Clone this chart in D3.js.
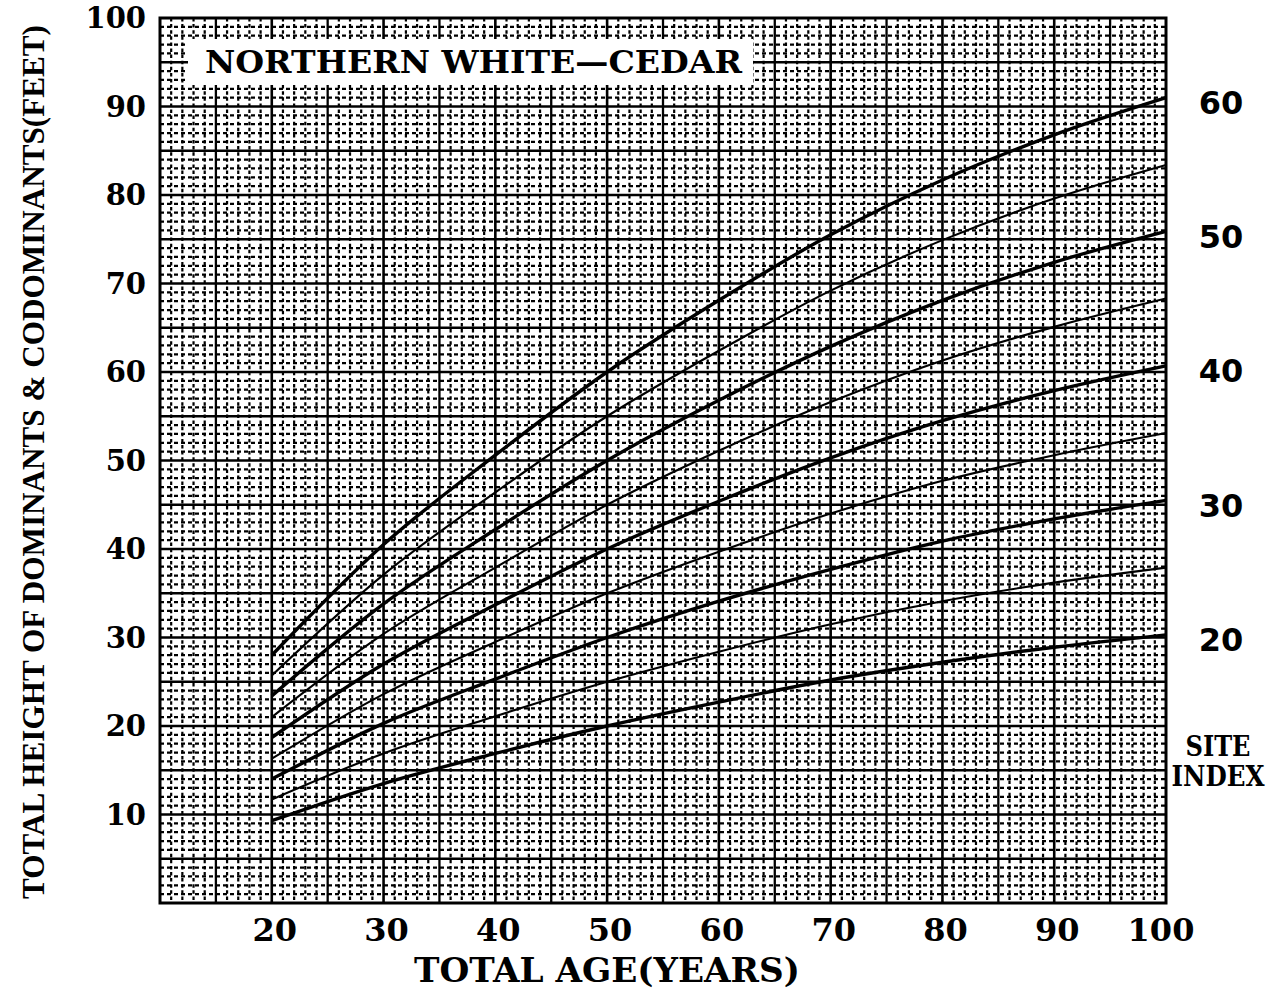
<!DOCTYPE html>
<html><head><meta charset="utf-8">
<script src="https://cdn.jsdelivr.net/npm/d3@7/dist/d3.min.js"></script>
<style>body{margin:0;background:#fff}svg{display:block}</style>
</head><body>
<svg id="chart" width="1275" height="994"></svg>
<script>
// ---- data ----
const ages = [20, 30, 40, 50, 60, 70, 80, 90, 100];
const siteIndexes = [60, 55, 50, 45, 40, 35, 30, 25, 20];
const si60 = [28.0, 40.5, 50.6, 60.0, 68.1, 75.5, 81.7, 86.8, 91.0];
const si55 = [25.7, 37.1, 46.4, 55.0, 62.4, 69.2, 74.9, 79.6, 83.4];
const si50 = [23.4, 33.8, 42.2, 50.0, 56.8, 62.9, 68.1, 72.4, 75.9];
const si45 = [21.0, 30.4, 37.9, 45.0, 51.1, 56.6, 61.3, 65.1, 68.3];
const si40 = [18.7, 27.0, 33.7, 40.0, 45.4, 50.3, 54.5, 57.9, 60.7];
const si35 = [16.3, 23.6, 29.5, 35.0, 39.7, 44.0, 47.7, 50.6, 53.1];
const si30 = [14.0, 20.3, 25.3, 30.0, 34.1, 37.7, 40.9, 43.4, 45.5];
const si25 = [11.7, 16.9, 21.1, 25.0, 28.4, 31.5, 34.1, 36.2, 37.9];
const si20 = [9.3, 13.5, 16.9, 20.0, 22.7, 25.2, 27.2, 28.9, 30.3];
const heightSeries = [si60, si55, si50, si45, si40, si35, si30, si25, si20];
const labeledIndexes = [60, 50, 40, 30, 20];
const xTickLabels = [20, 30, 40, 50, 60, 70, 80, 90, 100];
const yTickLabels = [10, 20, 30, 40, 50, 60, 70, 80, 90, 100];
const titleText = "NORTHERN WHITE\u2014CEDAR";
const xTitle = "TOTAL AGE(YEARS)";
const yTitle = "TOTAL HEIGHT OF DOMINANTS & CODOMINANTS(FEET)";
const siteLabel = ["SITE", "INDEX"];

// ---- drawing ----
const svg = d3.select("#chart");
const x = d3.scaleLinear().domain([10, 100]).range([160, 1166]);
const y = d3.scaleLinear().domain([0, 100]).range([903, 18]);
const serif = "'DejaVu Serif', serif";
const narrowSerif = "'Liberation Serif', serif";
const sans = "'DejaVu Sans', sans-serif";

const grid = svg.append("g");
// minor dotted texture (1-unit spacing)
grid.selectAll("line.mx").data(d3.range(10, 100, 1).filter(v => v % 5 !== 0)).join("line")
  .attr("x1", d => x(d)).attr("x2", d => x(d)).attr("y1", y(100)).attr("y2", y(0))
  .attr("stroke", "#000").attr("stroke-width", 2.2).attr("stroke-dasharray", "3.5 2.6");
grid.selectAll("line.my").data(d3.range(1, 100, 1).filter(v => v % 5 !== 0)).join("line")
  .attr("x1", x(10)).attr("x2", x(100)).attr("y1", d => y(d)).attr("y2", d => y(d))
  .attr("stroke", "#000").attr("stroke-width", 2.2).attr("stroke-dasharray", "4 3");
// major lines every 5 units
grid.selectAll("line.Mx").data(d3.range(15, 100, 5)).join("line")
  .attr("x1", d => x(d)).attr("x2", d => x(d)).attr("y1", y(100)).attr("y2", y(0))
  .attr("stroke", "#000").attr("stroke-width", d => d % 10 === 0 ? 2.6 : 2.3);
grid.selectAll("line.My").data(d3.range(5, 100, 5)).join("line")
  .attr("x1", x(10)).attr("x2", x(100)).attr("y1", d => y(d)).attr("y2", d => y(d))
  .attr("stroke", "#000").attr("stroke-width", d => d % 10 === 0 ? 2.6 : 2.3);
// frame
svg.append("rect").attr("x", x(10)).attr("y", y(100)).attr("width", x(100) - x(10)).attr("height", y(0) - y(100))
  .attr("fill", "none").attr("stroke", "#000").attr("stroke-width", 3);

// title box
svg.append("rect").attr("x", 188).attr("y", 39).attr("width", 565).attr("height", 46).attr("fill", "#fff");
svg.append("text").attr("x", 205).attr("y", 73).text(titleText)
  .attr("font-family", serif).attr("font-weight", "bold").attr("font-size", 31)
  .attr("textLength", 537).attr("lengthAdjust", "spacingAndGlyphs");

// curves
const line = d3.line().x((d, i) => x(ages[i])).y(d => y(d)).curve(d3.curveMonotoneX);
svg.append("g").selectAll("path").data(heightSeries).join("path")
  .attr("d", d => line(d)).attr("fill", "none").attr("stroke", "#000")
  .attr("stroke-width", (d, i) => siteIndexes[i] % 10 === 0 ? 3.4 : 2.1)
  .attr("stroke-linejoin", "round");

// left tick labels
svg.append("g").selectAll("text").data(yTickLabels).join("text")
  .attr("x", 146).attr("y", d => y(d)).attr("dy", "0.36em").attr("text-anchor", "end")
  .attr("font-family", serif).attr("font-weight", "bold").attr("font-size", 29).text(d => d);
// bottom tick labels
svg.append("g").selectAll("text").data(xTickLabels).join("text")
  .attr("x", d => x(d) + (d === 100 ? -5 : 3)).attr("y", 941).attr("text-anchor", "middle")
  .attr("font-family", serif).attr("font-weight", "bold").attr("font-size", 32).text(d => d);
// right site index labels
svg.append("g").selectAll("text").data(labeledIndexes).join("text")
  .attr("x", 1221).attr("y", d => y(heightSeries[siteIndexes.indexOf(d)][ages.length - 1]) + 5)
  .attr("dy", "0.36em").attr("text-anchor", "middle")
  .attr("font-family", sans).attr("font-weight", "bold").attr("font-size", 32).text(d => d);
svg.append("text").attr("x", 1218).attr("y", 756).attr("text-anchor", "middle")
  .attr("font-family", serif).attr("font-weight", "bold").attr("font-size", 27)
  .attr("textLength", 65).attr("lengthAdjust", "spacingAndGlyphs").text(siteLabel[0]);
svg.append("text").attr("x", 1218).attr("y", 786).attr("text-anchor", "middle")
  .attr("font-family", serif).attr("font-weight", "bold").attr("font-size", 27)
  .attr("textLength", 93).attr("lengthAdjust", "spacingAndGlyphs").text(siteLabel[1]);

// axis titles
svg.append("text").attr("x", 607).attr("y", 982).attr("text-anchor", "middle")
  .attr("font-family", serif).attr("font-weight", "bold").attr("font-size", 33)
  .attr("textLength", 386).attr("lengthAdjust", "spacingAndGlyphs").text(xTitle);
svg.append("text").attr("transform", "translate(44,462) rotate(-90)").attr("text-anchor", "middle")
  .attr("font-family", narrowSerif).attr("font-weight", "bold").attr("font-size", 31)
  .attr("textLength", 874).attr("lengthAdjust", "spacingAndGlyphs").text(yTitle);
</script>
</body></html>
